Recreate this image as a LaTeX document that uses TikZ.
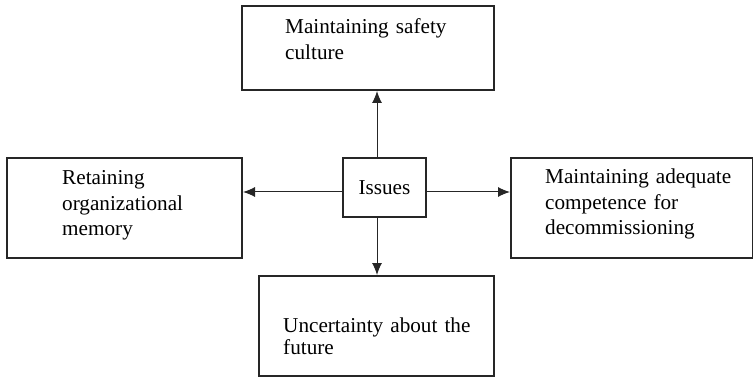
\documentclass[tikz,border=0pt]{standalone}
\usepackage{fontspec}
\setmainfont{Liberation Serif}
\usetikzlibrary{arrows.meta}
\begin{document}
\begin{tikzpicture}[x=1pt,y=-1pt,
  box/.style={draw=black!85, line width=2pt, inner sep=0pt, anchor=north west},
  lbl/.style={anchor=base west, inner sep=0pt, align=left, text width=240pt,
    font=\fontsize{21.2}{25.5}\selectfont},
  arr/.style={draw=black!85, line width=1pt, -{Latex[length=12pt,width=10pt]}}]
\useasboundingbox (0,0) rectangle (753,377);

% boxes
\node[box, minimum width=252pt, minimum height=84pt]  (top)    at (241,5)   {};
\node[box, minimum width=235pt, minimum height=100pt] (left)   at (6,157)   {};
\node[box, minimum width=242pt, minimum height=100pt] (right)  at (510,157) {};
\node[box, minimum width=235pt, minimum height=100pt] (bottom) at (258,275) {};
\node[box, minimum width=83pt,  minimum height=59pt,
      font=\fontsize{21.2}{25.5}\selectfont]          (issues) at (342,157) {Issues};

% box texts
\node[lbl] (ttop)    at (285,34)  {Maintaining safety\\culture};
\node[lbl] (tleft)   at (62,185)  {Retaining\\organizational\\memory};
\node[lbl] (tright)  at (545,184) {Maintaining adequate\\competence for\\decommissioning};
\node[lbl, font=\fontsize{21.2}{22.3}\selectfont] (tbottom) at (283,332) {Uncertainty about the\\future};

% connectors from the centre box
\draw[arr] ([xshift=-7.5pt]issues.north) -- ([xshift=-7.5pt]issues.north |- top.south);
\draw[arr] ([xshift=-7.5pt]issues.south) -- ([xshift=-7.5pt]issues.south |- bottom.north);
\draw[arr] ([yshift=-4.5pt]issues.west) -- ([yshift=-4.5pt]issues.west -| left.east);
\draw[arr] ([yshift=-4.5pt]issues.east) -- ([yshift=-4.5pt]issues.east -| right.west);
\end{tikzpicture}
\end{document}
